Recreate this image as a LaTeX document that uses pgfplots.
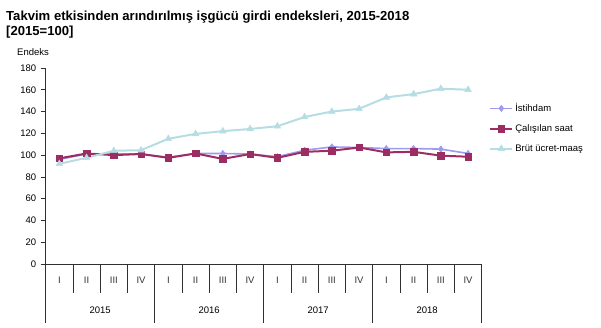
\documentclass[border=0pt]{standalone}
\usepackage{pgfplots}
\pgfplotsset{compat=1.18}
\usepackage{fontspec}
\setmainfont{Liberation Sans}
\definecolor{cIst}{HTML}{9E9AF0}
\definecolor{cCal}{HTML}{9B2D63}
\definecolor{cBrut}{HTML}{B5DDE3}
\definecolor{axcol}{HTML}{303030}
\begin{document}
\begin{tikzpicture}[x=1pt,y=1pt]
\path[use as bounding box] (0,0) rectangle (601,328);
\begin{axis}[
  at={(45.7pt,64pt)}, anchor=south west,
  scale only axis, width=436pt, height=196pt,
  xmin=-0.5, xmax=15.5, ymin=0, ymax=180,
  axis lines*=left,
  axis line style={axcol, line width=0.8pt, -},
  xtick=\empty,
  ytick={0,20,...,180},
  tick align=outside, major tick length=5pt,
  ytick style={axcol, line width=0.6pt},
  tick label style={font=\fontsize{9.5}{10}\selectfont},
  /pgf/number format/assume math mode=true,
  yticklabel style={xshift=-1pt},
  clip=false,
  legend style={at={(1.017,0.83)}, anchor=north west, draw=none, fill=none,
    font=\fontsize{9.5}{10}\selectfont, row sep=7.5pt, inner xsep=0pt, inner ysep=0pt,
    legend cell align=left},
  legend image code/.code={\draw[mark repeat=2,mark phase=2,#1] plot coordinates {(0pt,0pt)(11pt,0pt)(22pt,0pt)};},
]
\addplot[cIst, line width=1.6pt, mark=diamond*, mark size=3.2pt, mark options={solid,line width=0.5pt}] coordinates {
(0,96) (1,101) (2,101) (3,101) (4,98) (5,101.5) (6,101.5) (7,101) (8,98.5) (9,104.5) (10,107.5) (11,107) (12,106) (13,106) (14,105.5) (15,101.5)};
\addlegendentry{İstihdam}
\addplot[cCal, line width=2pt, mark=square*, mark size=3.2pt, mark options={solid,line width=0.5pt}] coordinates {
(0,97) (1,101.5) (2,100) (3,101) (4,97.5) (5,101.5) (6,96.5) (7,101) (8,97.5) (9,103) (10,104) (11,107) (12,102.5) (13,103) (14,99.5) (15,98.5)};
\addlegendentry{Çalışılan saat}
\addplot[cBrut, line width=2pt, mark=triangle*, mark size=3.8pt, mark options={solid,line width=0.5pt}] coordinates {
(0,92) (1,97.5) (2,104) (3,104.5) (4,115) (5,119.5) (6,122) (7,124) (8,126.5) (9,135) (10,140) (11,142.5) (12,153) (13,156) (14,161) (15,160)};
\addlegendentry{Brüt ücret-maaş}
\pgfplotsinvokeforeach{-0.5,0.5,...,15.5}{
  \draw[axcol, line width=0.8pt] (axis cs:#1,0) -- ++(0pt,-29pt);
}
\pgfplotsinvokeforeach{-0.5,3.5,7.5,11.5,15.5}{
  \draw[axcol, line width=0.8pt] (axis cs:#1,0) -- ++(0pt,-59pt);
}
\end{axis}
\foreach \i/\l in {0/I,1/II,2/III,3/IV,4/I,5/II,6/III,7/IV,8/I,9/II,10/III,11/IV,12/I,13/II,14/III,15/IV}{
  \node[font=\fontsize{9.5}{10}\selectfont, inner sep=0pt, text=black!80] at ({45.7+27.25*(\i+0.5)}, 48) {\l};
}
\foreach \i/\l in {0/2015,1/2016,2/2017,3/2018}{
  \node[font=\fontsize{9.5}{10}\selectfont, inner sep=0pt] at ({45.7+109*(\i+0.5)}, 18) {\l};
}
\node[anchor=west, inner sep=0pt, font=\fontsize{9.5}{10}\selectfont] at (17,276) {Endeks};
\node[anchor=west, inner sep=0pt, font=\bfseries\fontsize{13.1}{13}\selectfont] at (6,311) {Takvim etkisinden arındırılmış işgücü girdi endeksleri, 2015-2018};
\node[anchor=west, inner sep=0pt, font=\bfseries\fontsize{13.1}{13}\selectfont] at (6,296) {[2015=100]};
\end{tikzpicture}
\end{document}
